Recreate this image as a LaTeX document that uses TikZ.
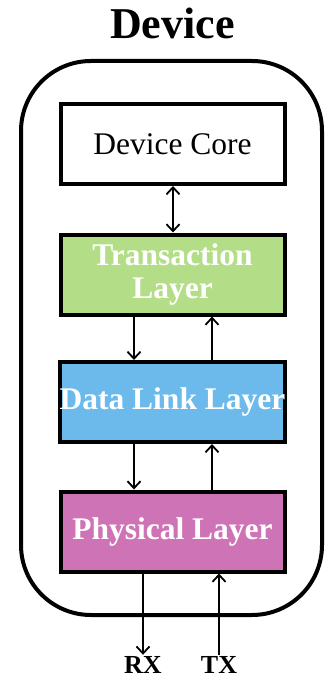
\documentclass[tikz,border=0pt]{standalone}
\usepackage{fontspec}
\setmainfont{Liberation Serif}
\usetikzlibrary{arrows.meta}

\definecolor{translayer}{HTML}{B3DE87}
\definecolor{linklayer}{HTML}{6CB9EC}
\definecolor{phylayer}{HTML}{CE73B5}

\tikzset{
  layer/.style={draw, line width=4pt, minimum width=224pt, minimum height=80pt,
    inner sep=0pt, text=white, align=center,
    font=\fontsize{31.5}{33}\selectfont\bfseries},
  barb/.tip={Straight Barb[length=7pt,width=13pt,line width=1.8pt]},
  flow/.style={line width=1.8pt, -barb},
  flowboth/.style={line width=1.8pt, barb-barb},
  pin/.style={font=\fontsize{26}{26}\selectfont\bfseries, inner sep=1pt, anchor=base}
}

\begin{document}
\begin{tikzpicture}[x=1pt, y=-1pt]
\useasboundingbox (0,0) rectangle (326,685);
\node[font=\fontsize{44}{44}\selectfont\bfseries, anchor=base] (title) at (172.5,38) {Device};
% device outline
\draw[line width=4pt, rounded corners=70pt] (21,61) rectangle (322,615);

% the layer stack
\node[layer, fill=white, text=black, font=\fontsize{31.5}{33}\selectfont] (core) at (172.5,144) {Device Core};
\node[layer, fill=translayer] (trans) at (172.5,274.5) {Transaction\\Layer};
\node[layer, fill=linklayer] (dll) at (172.5,402) {Data Link Layer};
\node[layer, fill=phylayer] (phy) at (172.5,531.5) {Physical Layer};

\draw[flowboth] ([xshift=0.5pt]core.south) -- ([xshift=0.5pt]trans.north);
\draw[flow] ([xshift=-38.5pt]trans.south) -- ([xshift=-38.5pt]dll.north);
\draw[flow] ([xshift=39.5pt]dll.north) -- ([xshift=39.5pt]trans.south);
\draw[flow] ([xshift=-38.5pt]dll.south) -- ([xshift=-38.5pt]phy.north);
\draw[flow] ([xshift=39.5pt]phy.north) -- ([xshift=39.5pt]dll.south);

% serial lines
\node[pin] (rx) at (143,673) {RX};
\node[pin] (tx) at (219,673) {TX};
\draw[flow] (phy.south -| rx.north) -- (rx.north);
\draw[flow] (tx.north) -- (phy.south -| tx.north);
\end{tikzpicture}
\end{document}
